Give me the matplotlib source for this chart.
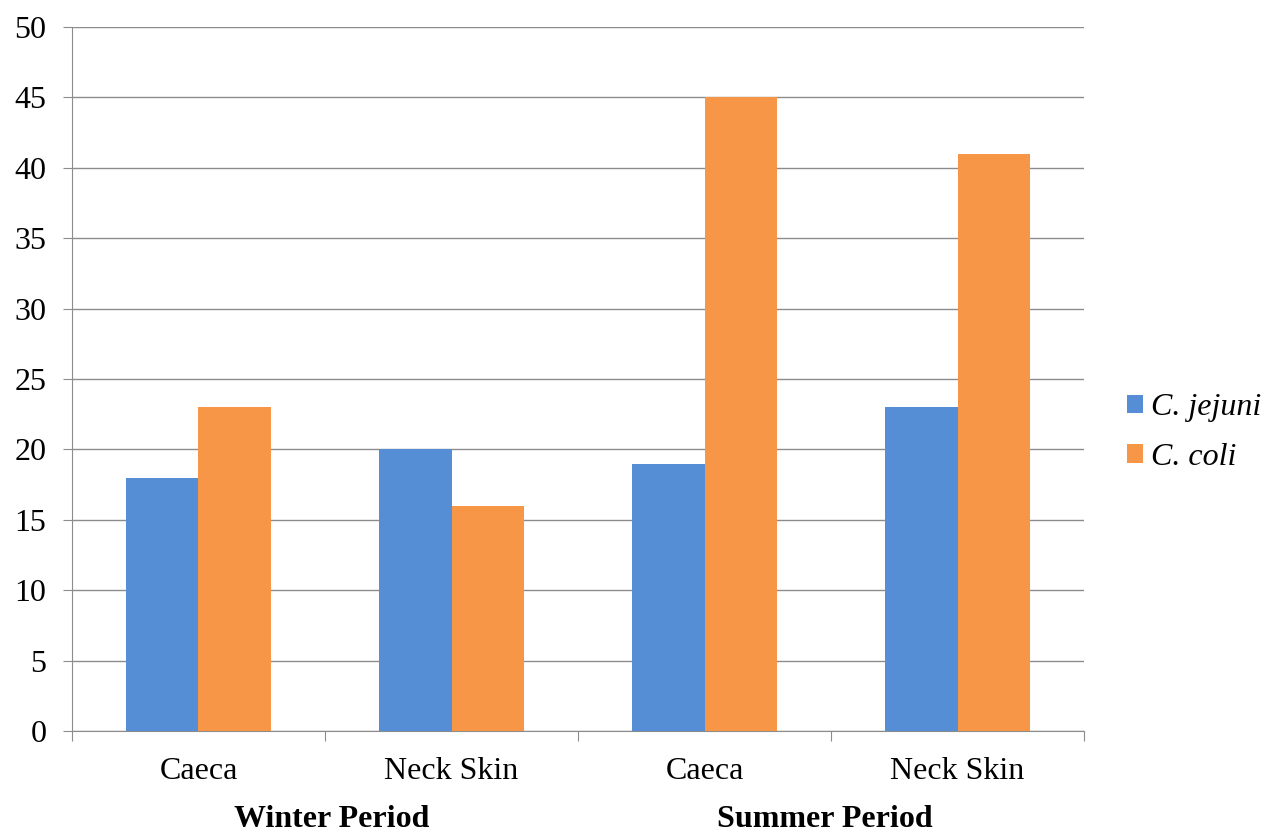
import matplotlib.pyplot as plt
import numpy as np

# data
samples = ['Caeca', 'Neck Skin', 'Caeca', 'Neck Skin']
periods = ['Winter Period', 'Summer Period']
jejuni = [18, 20, 19, 23]
coli = [23, 16, 45, 41]

plt.rcParams['font.family'] = ['Liberation Serif', 'DejaVu Serif']

fig = plt.figure(figsize=(12.63, 8.33), dpi=100)
ax = fig.add_axes([0.057, 0.1224, 0.8013, 0.8452])

x = np.arange(len(samples))
w = 0.285
ax.bar(x - w/2, jejuni, w, color='#558ED5', label='C. jejuni', zorder=3)
ax.bar(x + w/2, coli, w, color='#F79646', label='C. coli', zorder=3)

ax.set_xlim(-0.5, 3.5)
ax.set_ylim(0, 50)
ax.set_yticks(np.arange(0, 51, 5))
ax.yaxis.grid(True, color='#8c8c8c', linewidth=1, zorder=0)
ax.tick_params(axis='y', length=6.5, color='#8c8c8c', labelsize=23, pad=12)

# category boundary ticks, labels in between
ax.set_xticks(np.arange(-0.5, 4, 1))
ax.set_xticklabels([])
ax.set_xticks(x, minor=True)
ax.set_xticklabels(samples, minor=True, fontsize=23)
ax.tick_params(axis='x', which='major', length=7, color='#8c8c8c')
ax.tick_params(axis='x', which='minor', length=0, pad=19)

for s in ['top', 'right']:
    ax.spines[s].set_visible(False)
for s in ['left', 'bottom']:
    ax.spines[s].set_color('#8c8c8c')

# period labels under each pair of categories
for xc, p in zip([0.525, 2.475], periods):
    ax.text(xc, -0.125, p, transform=ax.get_xaxis_transform(),
            ha='center', va='center', fontsize=23, fontweight='bold')

leg = ax.legend(loc='center left', bbox_to_anchor=(1.03, 0.424), frameon=False,
                prop={'size': 23, 'style': 'italic'}, handlelength=0.5,
                handleheight=0.5, handletextpad=0.25, labelspacing=0.65,
                borderaxespad=0)

plt.savefig('out.png', dpi=100)
